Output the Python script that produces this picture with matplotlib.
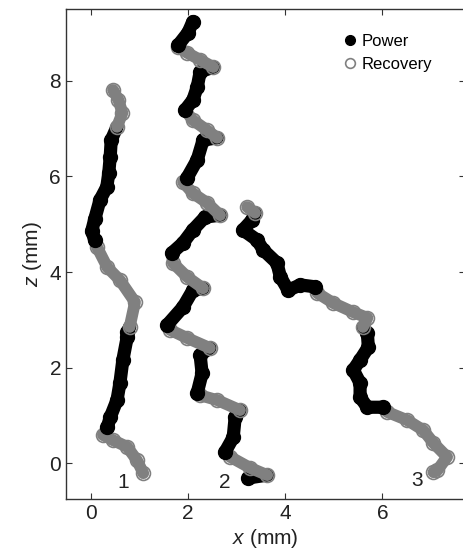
import matplotlib
matplotlib.use("Agg")
import matplotlib.pyplot as plt
from matplotlib.lines import Line2D
from itertools import groupby

plt.rcParams['font.family'] = ['Liberation Sans', 'DejaVu Sans']
plt.rcParams['mathtext.fontset'] = 'custom'
plt.rcParams['mathtext.it'] = 'Liberation Sans:italic'
plt.rcParams['mathtext.rm'] = 'Liberation Sans'

# cilium tip paths, P = power stroke, R = recovery stroke
x1 = [1.08, 0.95, 0.75, 0.46, 0.25,
      0.34, 0.40, 0.54, 0.60, 0.66, 0.75, 0.75,
      0.80, 0.91, 0.60, 0.34, 0.13,
      0.08, 0.02, 0.08, 0.19, 0.33, 0.37, 0.40, 0.42,
      0.54, 0.65, 0.57, 0.46]
z1 = [-0.21, 0.06, 0.34, 0.48, 0.59,
      0.75, 0.96, 1.32, 1.68, 2.16, 2.64, 2.74,
      2.85, 3.37, 3.83, 4.10, 4.52,
      4.67, 4.86, 5.10, 5.51, 5.78, 6.07, 6.41, 6.76,
      7.04, 7.33, 7.60, 7.81]
p1 = "RRRRR" + "PPPPPPP" + "RRRRR" + "PPPPPPPP" + "RRRR"

x2 = [3.24,
      3.63, 3.28, 2.87,
      2.76, 2.93, 2.97,
      3.07, 2.60, 2.25,
      2.19, 2.29, 2.25,
      2.45, 1.98, 1.63,
      1.57, 1.90, 2.10,
      2.31, 1.98, 1.69,
      1.67, 1.90, 2.10, 2.35,
      2.66, 2.39, 2.10, 1.90,
      1.98, 2.19, 2.31,
      2.60, 2.39, 2.10,
      1.94, 2.10, 2.19, 2.25,
      2.52, 2.25, 1.98, 1.80,
      1.80, 2.00, 2.10]
z2 = [-0.31,
      -0.25, -0.10, 0.13,
      0.23, 0.54, 0.96,
      1.11, 1.32, 1.42,
      1.47, 1.88, 2.26,
      2.41, 2.62, 2.79,
      2.89, 3.27, 3.62,
      3.66, 3.90, 4.19,
      4.40, 4.61, 4.88, 5.15,
      5.19, 5.45, 5.65, 5.88,
      5.97, 6.35, 6.76,
      6.81, 6.97, 7.18,
      7.39, 7.60, 7.87, 8.19,
      8.29, 8.44, 8.59, 8.71,
      8.75, 9.01, 9.24]
p2 = "P" + "RRR" + "PPP" + "RRR" + "PPP" + "RRR" + "PPP" + "RRR" + "PPPP" + \
     "RRRR" + "PPP" + "RRR" + "PPPP" + "RRRR" + "PPP"

x3 = [7.05, 7.13, 7.33, 7.05, 6.84, 6.51, 6.10,
      6.01, 5.69, 5.54, 5.54, 5.40, 5.54, 5.71, 5.69,
      5.60, 5.69, 5.40, 4.99, 4.66,
      4.62, 4.31, 4.06, 3.90, 3.83, 3.55, 3.42, 3.13, 3.32,
      3.38, 3.22]
z3 = [-0.19, -0.15, 0.13, 0.42, 0.69, 0.90, 1.07,
      1.17, 1.17, 1.38, 1.68, 1.95, 2.16, 2.43, 2.72,
      2.85, 3.04, 3.16, 3.35, 3.56,
      3.69, 3.73, 3.62, 3.90, 4.19, 4.46, 4.67, 4.88, 5.09,
      5.24, 5.36]
p3 = "RRRRRRR" + "PPPPPPPP" + "RRRRR" + "PPPPPPPPP" + "RR"

labels = ["1", "2", "3"]
label_x = [0.66, 2.76, 6.71]
label_z = [-0.40, -0.40, -0.36]

power_c = "black"
rec_c = "#808080"

fig = plt.figure(figsize=(4.63, 5.54), dpi=100)
ax = fig.add_axes([0.1425, 0.0993, 0.862, 0.884])


def draw_path(xs, zs, ph):
    i = 0
    for key, grp in groupby(ph):
        n = len(list(grp))
        j = min(i + n + 1, len(xs))
        if key == "P":
            ax.plot(xs[i:j], zs[i:j], color=power_c, lw=9.5,
                    solid_capstyle="round", solid_joinstyle="round", zorder=2)
            ax.plot(xs[i:i + n], zs[i:i + n], "o", ms=10, mfc=power_c,
                    mec=power_c, zorder=2)
        else:
            ax.plot(xs[i:j], zs[i:j], color=rec_c, lw=8.5,
                    solid_capstyle="round", solid_joinstyle="round", zorder=2)
            ax.plot(xs[i:i + n], zs[i:i + n], "o", ms=10, mfc="none",
                    mec=rec_c, mew=1.2, zorder=2)
        i += n


draw_path(x1, z1, p1)
draw_path(x2, z2, p2)
draw_path(x3, z3, p3)

for t, lx, lz in zip(labels, label_x, label_z):
    ax.text(lx, lz, t, fontsize=15, ha="center", va="center", color="#222222")

ax.set_xlim(-0.51, 7.70)
ax.set_ylim(-0.75, 9.5)
ax.set_xticks([0, 2, 4, 6])
ax.set_yticks([0, 2, 4, 6, 8])
ax.tick_params(direction="in", length=4, width=0.8, labelsize=15,
               top=True, right=True, colors="#333333", labelcolor="#222222")
for s in ax.spines.values():
    s.set_color("#333333")
    s.set_linewidth(1.0)

ax.set_xlabel(r"$\mathit{x}$ (mm)", fontsize=15, color="#222222", labelpad=3)
ax.set_ylabel(r"$\mathit{z}$ (mm)", fontsize=15, color="#222222", labelpad=4)

handles = [Line2D([], [], ls="none", marker="o", ms=7, mfc=power_c, mec=power_c),
           Line2D([], [], ls="none", marker="o", ms=7, mfc="none", mec=rec_c, mew=1.2)]
ax.legend(handles, ["Power", "Recovery"], loc="upper right",
          bbox_to_anchor=(0.955, 0.98), frameon=False, fontsize=12,
          handletextpad=0.1, labelspacing=0.45, handlelength=1.2)

fig.savefig("out.png", dpi=100)
